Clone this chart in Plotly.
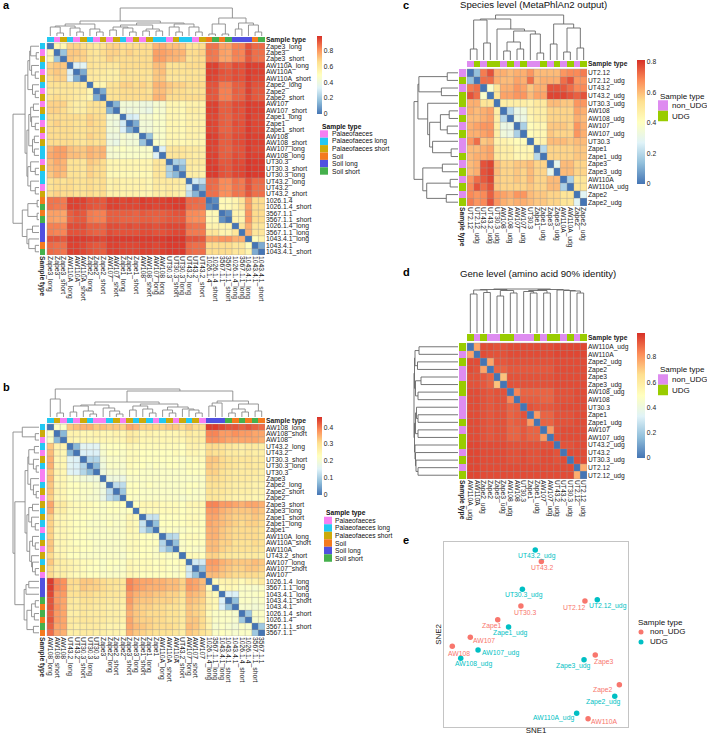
import plotly.graph_objects as go

W, H = 707, 736
FONT = "Liberation Sans"
HEAT_SCALE = ["#4575B4", "#91BFDB", "#E0F3F8", "#FFFFBF", "#FEE090", "#FC8D59", "#D73027"]
GRID_COLOR = "#999999"

TYPE_NAMES_ABC = ["Palaeofaeces", "Palaeofaeces long", "Palaeofaeces short", "Soil", "Soil long", "Soil short"]
TYPE_COLORS = ["#F77FF2", "#22C8F2", "#CCAA0A", "#F47A1F", "#5050E0", "#45B04C"]
UDG_NAMES = ["non_UDG", "UDG"]
UDG_COLORS = ["#DE8CF0", "#99CC00"]

# ---- panel a
A_LABELS = ["Zape3_long", "Zape3", "Zape3_short", "AW110A_long", "AW110A", "AW110A_short", "Zape2_long", "Zape2",
            "Zape2_short", "AW107", "AW107_short", "Zape1_long", "Zape1", "Zape1_short", "AW108", "AW108_short",
            "AW107_long", "AW108_long", "UT30.3", "UT30.3_short", "UT30.3_long", "UT43.2_long", "UT43.2",
            "UT43.2_short", "1026.1.4", "1026.1.4_short", "3567.1.1", "3567.1.1_short", "1026.1.4_long",
            "3567.1.1_long", "1043.4.1_long", "1043.4.1", "1043.4.1_short"]
# upper triangle, in hundredths
A_UPPER = [
    [54, 54, 68, 68, 66, 64, 61, 64, 68, 68, 66, 66, 66, 66, 66, 74, 76, 72, 72, 70, 64, 64, 66, 86, 86, 78, 78, 84, 84, 92, 88, 88],
    [18, 70, 70, 68, 64, 62, 66, 68, 68, 66, 68, 66, 66, 66, 78, 78, 76, 74, 74, 66, 66, 68, 86, 85, 78, 77, 84, 83, 92, 87, 87],
    [70, 68, 68, 64, 62, 64, 68, 66, 66, 66, 66, 66, 66, 78, 78, 74, 74, 72, 64, 66, 66, 85, 85, 77, 77, 83, 83, 91, 87, 86],
    [32, 34, 64, 62, 62, 61, 61, 66, 66, 66, 66, 66, 72, 72, 64, 64, 64, 66, 66, 66, 95, 95, 90, 89, 93, 92, 96, 95, 95],
    [12, 62, 60, 60, 58, 58, 66, 64, 64, 64, 64, 70, 72, 64, 64, 64, 64, 64, 64, 95, 95, 92, 91, 93, 92, 96, 95, 95],
    [60, 60, 58, 58, 58, 64, 64, 64, 64, 62, 70, 70, 62, 62, 62, 64, 64, 64, 95, 94, 91, 91, 93, 92, 96, 94, 94],
    [54, 54, 64, 64, 68, 68, 66, 68, 66, 74, 74, 70, 68, 68, 66, 66, 66, 92, 92, 85, 85, 90, 90, 95, 92, 92],
    [12, 64, 64, 66, 66, 66, 66, 64, 72, 72, 68, 66, 66, 64, 64, 64, 92, 91, 84, 84, 90, 89, 95, 91, 91],
    [64, 64, 66, 66, 66, 66, 66, 74, 74, 66, 66, 66, 66, 66, 66, 91, 91, 84, 84, 89, 89, 94, 91, 90],
    [14, 42, 42, 42, 40, 40, 44, 44, 54, 54, 52, 56, 56, 56, 95, 95, 90, 90, 93, 93, 96, 95, 95],
    [42, 40, 42, 40, 38, 46, 44, 54, 54, 52, 58, 58, 56, 95, 95, 90, 90, 93, 92, 96, 95, 95],
    [30, 32, 44, 44, 48, 46, 54, 54, 52, 56, 56, 56, 94, 94, 90, 89, 92, 92, 96, 94, 94],
    [12, 42, 42, 46, 46, 54, 54, 52, 56, 56, 56, 95, 94, 90, 89, 93, 92, 96, 94, 94],
    [42, 42, 46, 46, 54, 54, 52, 56, 56, 56, 94, 94, 89, 89, 92, 92, 96, 94, 94],
    [18, 46, 46, 54, 54, 52, 56, 56, 54, 96, 95, 91, 90, 93, 93, 96, 95, 95],
    [46, 46, 54, 54, 52, 54, 54, 54, 95, 95, 90, 90, 93, 93, 96, 95, 95],
    [32, 62, 62, 62, 60, 60, 58, 95, 94, 90, 89, 92, 92, 96, 94, 94],
    [62, 62, 62, 60, 58, 58, 95, 95, 90, 90, 93, 92, 96, 95, 95],
    [22, 22, 60, 60, 60, 96, 95, 91, 91, 94, 93, 97, 96, 96],
    [15, 60, 58, 58, 96, 96, 92, 91, 94, 94, 97, 96, 96],
    [58, 58, 56, 96, 96, 92, 91, 94, 94, 97, 96, 96],
    [30, 26, 88, 88, 82, 82, 87, 85, 92, 88, 88],
    [14, 88, 87, 82, 81, 86, 85, 92, 87, 87],
    [87, 87, 81, 81, 86, 85, 91, 87, 87],
    [5, 52, 52, 55, 62, 78, 66, 66],
    [52, 52, 55, 62, 78, 66, 66],
    [6, 55, 55, 80, 66, 66],
    [55, 55, 80, 66, 66],
    [62, 75, 62, 62],
    [75, 62, 62],
    [50, 55],
    [12],
]
# dendrogram as (height, left, right); a leaf is its row index
A_TREE = (28,
          (15,
           (12, (10, (9, 0, (3, 1, 2)), (8, 3, (4, 4, 5))), (7, 6, (4, 7, 8))),
           (13, (11, (9, (6, 9, 10), (8, 11, (4, 12, 13))), (7, (5, 14, 15), (5, 16, 17))),
            (12, (9, 18, (4, 19, 20)), (9, 21, (4, 22, 23))))),
          (18, (12, (2, 24, 25), (2, 26, 27)),
           (13, (7, 28, 29), (11, 30, (4, 31, 32)))))

# ---- panel b
B_LABELS = ["AW108_long", "AW108_short", "AW108", "UT43.2_long", "UT43.2", "UT30.3_short", "UT30.3_long", "UT30.3",
            "Zape3", "Zape2_long", "Zape2_short", "Zape2", "Zape3_short", "Zape3_long", "Zape1_short", "Zape1_long",
            "Zape1", "AW110A_long", "AW110A_short", "AW110A", "UT43.2_short", "AW107_long", "AW107_short", "AW107",
            "1026.1.4_long", "3567.1.1_long", "1043.4.1_long", "1043.4.1_short", "1043.4.1", "1026.1.4_short",
            "1026.1.4", "3567.1.1_short", "3567.1.1"]
B_UPPER = [
    [22, 22, 33, 34, 35, 35, 33, 34, 33, 33, 32, 36, 35, 32, 32, 32, 32, 33, 33, 31, 33, 31, 31, 45, 45, 44, 43, 43, 42, 43, 42, 41],
    [7, 26, 26, 25, 25, 26, 25, 25, 26, 25, 28, 27, 25, 26, 25, 25, 25, 25, 26, 28, 27, 27, 39, 39, 37, 37, 38, 37, 37, 36, 36],
    [26, 25, 25, 25, 25, 25, 25, 25, 25, 28, 27, 25, 25, 25, 25, 25, 25, 25, 27, 27, 27, 38, 38, 37, 36, 36, 36, 36, 36, 35],
    [7, 16, 16, 16, 22, 23, 23, 23, 25, 24, 24, 24, 24, 24, 24, 24, 23, 26, 26, 25, 31, 31, 30, 29, 28, 27, 28, 28, 27],
    [15, 15, 15, 21, 23, 23, 22, 24, 24, 23, 23, 23, 23, 23, 24, 23, 25, 25, 24, 31, 30, 30, 28, 28, 27, 28, 27, 27],
    [11, 11, 20, 22, 22, 22, 24, 24, 23, 23, 23, 23, 23, 23, 22, 24, 24, 24, 33, 33, 31, 30, 29, 29, 29, 28, 28],
    [7, 19, 22, 22, 21, 24, 23, 23, 22, 23, 22, 23, 23, 22, 24, 23, 23, 33, 32, 31, 30, 29, 28, 29, 28, 28],
    [19, 21, 21, 21, 23, 23, 22, 22, 22, 22, 22, 22, 22, 23, 23, 23, 32, 32, 30, 29, 28, 28, 28, 28, 27],
    [19, 19, 18, 22, 22, 22, 22, 22, 22, 22, 22, 22, 22, 22, 22, 31, 31, 30, 29, 28, 28, 28, 27, 27],
    [12, 12, 23, 23, 22, 23, 22, 22, 22, 22, 22, 23, 23, 22, 30, 30, 29, 28, 27, 27, 27, 26, 26],
    [9, 23, 23, 22, 22, 22, 22, 22, 22, 22, 23, 22, 22, 30, 29, 29, 28, 27, 27, 27, 26, 26],
    [23, 22, 22, 22, 22, 22, 22, 22, 21, 22, 22, 22, 29, 29, 28, 27, 26, 26, 26, 25, 25],
    [23, 25, 25, 25, 24, 24, 24, 23, 25, 25, 25, 39, 39, 37, 37, 36, 35, 36, 36, 35],
    [24, 24, 24, 24, 24, 24, 23, 24, 24, 24, 37, 37, 35, 34, 33, 33, 33, 34, 33],
    [13, 13, 23, 23, 23, 23, 24, 24, 23, 36, 36, 34, 33, 32, 32, 32, 33, 32],
    [8, 23, 23, 23, 23, 24, 24, 23, 36, 35, 34, 33, 32, 31, 32, 32, 31],
    [22, 23, 22, 22, 23, 23, 23, 35, 35, 33, 32, 31, 31, 31, 31, 30],
    [11, 12, 23, 24, 24, 23, 35, 35, 33, 32, 31, 31, 31, 31, 30],
    [8, 22, 23, 23, 23, 34, 34, 32, 32, 30, 30, 30, 31, 30],
    [22, 23, 22, 22, 34, 34, 32, 31, 30, 30, 30, 30, 29],
    [24, 24, 23, 32, 32, 30, 29, 28, 28, 28, 28, 27],
    [14, 14, 37, 37, 35, 34, 33, 33, 33, 34, 33],
    [8, 36, 36, 34, 33, 32, 32, 33, 33, 32],
    [34, 34, 33, 32, 31, 31, 31, 31, 30],
    [24, 26, 26, 26, 24, 26, 26, 28],
    [24, 25, 24, 22, 22, 21, 22],
    [15, 15, 22, 22, 22, 23],
    [8, 22, 22, 21, 22],
    [21, 21, 20, 21],
    [9, 22, 22],
    [21, 22],
    [9],
]
B_TREE = (28,
          (18, 0, (4, 1, 2)),
          (26,
           (15,
            (12, (11, (5, 3, 4), (6, 5, (3, 6, 7))), (9, 8, (6, 9, (3, 10, 11)))),
            (13, (11, (7, 12, 13), (8, 14, (4, 15, 16))), (10, (7, 17, (4, 18, 19)), (8, 20, (7, 21, (4, 22, 23)))))),
           (16, (14, (11, 24, 25), 26), (13, (8, (4, 27, 28), (5, 29, 30)), (6, 31, 32)))))

# ---- panel c
C_LABELS = ["UT2.12", "UT2.12_udg", "UT43.2", "UT43.2_udg", "UT30.3_udg", "AW108", "AW108_udg", "AW107", "AW107_udg",
            "UT30.3", "Zape1", "Zape1_udg", "Zape3", "Zape3_udg", "AW110A", "AW110A_udg", "Zape2", "Zape2_udg"]
C_UPPER = [
    [14, 70, 76, 62, 62, 60, 62, 62, 66, 60, 60, 60, 60, 66, 68, 68, 70],
    [72, 72, 62, 60, 60, 64, 62, 72, 60, 62, 62, 62, 72, 76, 66, 66],
    [38, 52, 62, 62, 66, 64, 58, 62, 62, 76, 76, 75, 72, 68, 68],
    [52, 64, 64, 66, 66, 60, 64, 64, 78, 78, 78, 76, 74, 76],
    [48, 48, 48, 48, 46, 50, 50, 60, 60, 58, 58, 66, 66],
    [20, 32, 34, 46, 48, 48, 56, 56, 56, 56, 64, 62],
    [32, 32, 44, 48, 48, 56, 56, 56, 56, 62, 60],
    [18, 42, 44, 44, 58, 58, 58, 56, 66, 62],
    [42, 44, 44, 58, 56, 56, 56, 66, 62],
    [44, 46, 60, 60, 60, 58, 60, 60],
    [20, 56, 56, 56, 56, 58, 58],
    [56, 56, 56, 56, 58, 58],
    [30, 60, 60, 56, 56],
    [60, 60, 56, 56],
    [18, 52, 52],
    [52, 52],
    [28],
]
C_TREE = (45,
          (41,
           (40, (11, 0, 1), (17, 2, 3)),
           (31, 4, (29, (18, (9, 5, 6), (11, 7, 8)), (26, 9, (7, 10, 11))))),
          (36, (16, 12, 13), (32, (8, 14, 15), (12, 16, 17))))

# ---- panel d
D_LABELS = ["AW110A_udg", "AW110A", "Zape2_udg", "Zape2", "Zape3", "Zape3_udg", "AW108_udg", "AW108", "UT30.3", "Zape1",
            "Zape1_udg", "AW107", "AW107_udg", "UT43.2_udg", "UT43.2", "UT30.3_udg", "UT2.12", "UT2.12_udg"]
D_UPPER = [
    [78, 94, 94, 93, 93, 94, 94, 94, 94, 94, 94, 94, 95, 95, 95, 95, 95],
    [94, 93, 93, 93, 94, 94, 94, 94, 94, 94, 94, 95, 95, 95, 95, 95],
    [78, 92, 92, 93, 93, 93, 93, 93, 93, 93, 94, 94, 94, 94, 94],
    [90, 90, 92, 92, 92, 92, 92, 92, 92, 94, 94, 94, 94, 94],
    [72, 93, 93, 93, 93, 93, 93, 93, 94, 94, 94, 94, 94],
    [93, 93, 93, 93, 93, 93, 93, 94, 94, 94, 94, 94],
    [84, 90, 90, 90, 90, 90, 93, 93, 93, 94, 94],
    [91, 91, 91, 90, 90, 93, 93, 93, 94, 94],
    [93, 92, 92, 92, 93, 94, 94, 94, 94],
    [80, 90, 90, 93, 93, 93, 94, 94],
    [90, 90, 93, 93, 93, 94, 94],
    [80, 93, 94, 94, 94, 94],
    [93, 94, 94, 94, 94],
    [93, 93, 94, 94],
    [94, 94, 94],
    [94, 94],
    [76],
]
D_TREE = (44,
          (43.5, (43, (39, 0, 1), (40.5, 2, 3)), (42.5, (37, 4, 5), (40, 6, 7))),
          (43.5, (42.5, (41.5, 8, (40, 9, 10)), (40, 11, 12)), (43, 13, (42.5, 14, (42, 15, (40, 16, 17))))))

# ---- panel e
NON_UDG_NAMES = ["UT43.2", "UT2.12", "UT30.3", "Zape1", "AW107", "AW108", "Zape3", "Zape2", "AW110A"]
NON_UDG_SNE1 = [52.9, 76.6, 41.8, 29.2, 14.3, 4.5, 82.2, 95.3, 78.3]
NON_UDG_SNE2 = [89.5, 68.1, 65.4, 58.0, 48.5, 43.6, 38.9, 22.9, 4.5]
NON_UDG_SHIFT = [(1, 6), (-10, 6), (5, 6), (-6, 6), (14, 3), (7, 7), (8, 7), (-17, 5), (16, 3)]
UDG_NAMES_E = ["UT43.2_udg", "UT30.3_udg", "UT2.12_udg", "Zape1_udg", "AW107_udg", "AW108_udg", "Zape3_udg",
               "Zape2_udg", "AW110A_udg"]
UDG_SNE1 = [49.6, 42.6, 83.3, 35.1, 18.5, 9.1, 76.1, 92.8, 72.1]
UDG_SNE2 = [95.7, 74.4, 68.8, 54.1, 41.6, 37.1, 36.4, 16.6, 7.4]
UDG_SHIFT = [(2, 6), (2, 6), (11, 6), (2, 6), (22, 3), (13, 6), (-11, 6), (-11, 6), (-23, 5)]
E_COLORS = ["#F8766D", "#00BFC4"]

# pixel boxes of each clustered panel
PANELS = [
    dict(labels=A_LABELS, upper=A_UPPER, tree=A_TREE, kind="soil", zmax=0.98, ticks=[0, 0.2, 0.4, 0.6, 0.8],
         hm=(47, 265, 43, 255), top_strip=(37, 42), left_strip=(40, 45), top_dendro=(8, 36), left_dendro=(13, 39),
         cbar=(317, 36, 5, 78), fs=6.8, line="#8a8a8a"),
    dict(labels=B_LABELS, upper=B_UPPER, tree=B_TREE, kind="soil", zmax=0.46, ticks=[0, 0.1, 0.2, 0.3, 0.4],
         hm=(47, 265, 424, 636), top_strip=(418, 423), left_strip=(40, 45), top_dendro=(389, 417), left_dendro=(13, 39),
         cbar=(317, 417, 5, 78), fs=6.8, line="#8a8a8a"),
    dict(labels=C_LABELS, upper=C_UPPER, tree=C_TREE, kind="udg", zmax=0.81, ticks=[0, 0.2, 0.4, 0.6, 0.8],
         hm=(467, 587, 69, 206), top_strip=(61, 67), left_strip=(459, 466), top_dendro=(15, 60), left_dendro=(414, 458),
         cbar=(637, 60, 8, 124), fs=6.7, line="#666666"),
    dict(labels=D_LABELS, upper=D_UPPER, tree=D_TREE, kind="udg", zmax=0.99, ticks=[0, 0.2, 0.4, 0.6, 0.8],
         hm=(467, 587, 343, 479), top_strip=(334, 341), left_strip=(459, 466), top_dendro=(289, 333), left_dendro=(414, 458),
         cbar=(637, 333, 8, 125), fs=6.7, line="#666666"),
]


def px_x(x):
    return x / W


def px_y(y):
    return 1 - y / H


def full_matrix(upper):
    n = len(upper) + 1
    z = [[0.0] * n for _ in range(n)]
    for i, row in enumerate(upper):
        for k, v in enumerate(row):
            z[i][i + 1 + k] = v / 100
            z[i + 1 + k][i] = v / 100
    return z


def sample_type(label, kind):
    if kind == "udg":
        return 1 if label.endswith("_udg") else 0
    base = 3 if label[0].isdigit() else 0
    if label.endswith("_long"):
        return base + 1
    if label.endswith("_short"):
        return base + 2
    return base


def tree_lines(node, xs, ys):
    # walks the tree, returns position and height of the node
    if isinstance(node, int):
        return node, 0
    h, left, right = node
    pl, hl = tree_lines(left, xs, ys)
    pr, hr = tree_lines(right, xs, ys)
    xs += [pl, pl, pr, pr, None]
    ys += [hl, h, h, hr, None]
    return (pl + pr) / 2, h


def step_scale(colors):
    n = len(colors)
    scale = []
    for i, c in enumerate(colors):
        scale += [[i / n, c], [(i + 1) / n, c]]
    return scale


fig = go.Figure()
shapes = []
annotations = []
layout_axes = {}

for idx, p in enumerate(PANELS):
    ax = idx + 1
    xname, yname = ("x", "y") if ax == 1 else (f"x{ax}", f"y{ax}")
    n = len(p["labels"])
    left, right, top, bottom = p["hm"]
    cw = (right - left) / n
    ch = (bottom - top) / n
    ax_left, ax_top = p["left_dendro"][0] - 1, p["top_dendro"][0] - 1

    # every part of the panel is placed in cell units of one axes pair
    def cell_x(px):
        return -0.5 + (px - left) / cw

    def cell_y(py):
        return -0.5 + (py - top) / ch

    z = full_matrix(p["upper"])
    cx, cy, cw_bar, ch_bar = p["cbar"]
    fig.add_trace(go.Heatmap(
        z=z, x=list(range(n)), y=list(range(n)), xaxis=xname, yaxis=yname,
        zmin=0, zmax=p["zmax"], colorscale=[[i / 6, c] for i, c in enumerate(HEAT_SCALE)], hoverinfo="skip",
        colorbar=dict(
            x=px_x(cx), y=px_y(cy), xanchor="left", yanchor="top", xpad=0, ypad=0,
            thickness=cw_bar, thicknessmode="pixels", len=ch_bar, lenmode="pixels",
            outlinewidth=0, ticks="", tickvals=p["ticks"], ticktext=[f"{t:g}" for t in p["ticks"]],
            tickfont=dict(size=6.7, family=FONT, color="#222222"),
        ),
    ))
    # thin cell borders on top of the cells
    grid_x, grid_y = [], []
    for i in range(n + 1):
        grid_x += [i - 0.5, i - 0.5, None, -0.5, n - 0.5, None]
        grid_y += [-0.5, n - 0.5, None, i - 0.5, i - 0.5, None]
    fig.add_trace(go.Scatter(
        x=grid_x, y=grid_y, xaxis=xname, yaxis=yname, mode="lines", line=dict(color=GRID_COLOR, width=0.5),
        opacity=0.8, showlegend=False, hoverinfo="skip",
    ))

    types = [sample_type(lab, p["kind"]) for lab in p["labels"]]
    colors = TYPE_COLORS if p["kind"] == "soil" else UDG_COLORS
    edges = [i - 0.5 for i in range(n + 1)]
    s0, s1 = p["top_strip"]
    fig.add_trace(go.Heatmap(
        z=[types], x=edges, y=[cell_y(s0), cell_y(s1)], xaxis=xname, yaxis=yname,
        zmin=-0.5, zmax=len(colors) - 0.5, colorscale=step_scale(colors), showscale=False, hoverinfo="skip",
    ))
    s0x, s1x = p["left_strip"]
    fig.add_trace(go.Heatmap(
        z=[[t] for t in types], x=[cell_x(s0x), cell_x(s1x)], y=edges, xaxis=xname, yaxis=yname,
        zmin=-0.5, zmax=len(colors) - 0.5, colorscale=step_scale(colors), showscale=False, hoverinfo="skip",
    ))

    # dendrograms, same tree on both sides
    pos, hgt = [], []
    tree_lines(p["tree"], pos, hgt)
    root = p["tree"][0]
    d0, d1 = p["top_dendro"]
    depth = d1 - d0
    fig.add_trace(go.Scatter(
        x=pos, y=[None if h is None else cell_y(d1 - h / root * depth) for h in hgt], xaxis=xname, yaxis=yname,
        mode="lines", line=dict(color=p["line"], width=0.9), showlegend=False, hoverinfo="skip",
    ))
    d0, d1 = p["left_dendro"]
    depth = d1 - d0
    fig.add_trace(go.Scatter(
        x=[None if h is None else cell_x(d1 - h / root * depth) for h in hgt], y=pos, xaxis=xname, yaxis=yname,
        mode="lines", line=dict(color=p["line"], width=0.9), showlegend=False, hoverinfo="skip",
    ))

    tick_font = dict(size=p["fs"], family=FONT, color="#222222")
    layout_axes["xaxis" if ax == 1 else f"xaxis{ax}"] = dict(
        domain=[px_x(ax_left), px_x(right)], range=[cell_x(ax_left), n - 0.5], anchor=yname,
        showgrid=False, zeroline=False, showline=False, ticks="", tickangle=90, tickfont=tick_font,
        tickmode="array", tickvals=[(cell_x(s0x) + cell_x(s1x)) / 2] + list(range(n)),
        ticktext=["<b>Sample type</b>"] + p["labels"],
    )
    layout_axes["yaxis" if ax == 1 else f"yaxis{ax}"] = dict(
        domain=[px_y(bottom), px_y(ax_top)], range=[n - 0.5, cell_y(ax_top)], anchor=xname, side="right",
        showgrid=False, zeroline=False, showline=False, ticks="", tickfont=tick_font,
        tickmode="array", tickvals=[(cell_y(s0) + cell_y(s1)) / 2] + list(range(n)),
        ticktext=["<b>Sample type</b>"] + p["labels"],
    )


def add_text(text, x, y, size, bold=False, color="#111111"):
    annotations.append(dict(
        text=f"<b>{text}</b>" if bold else text, xref="paper", yref="paper", x=px_x(x), y=px_y(y),
        xanchor="left", yanchor="middle", showarrow=False, font=dict(size=size, family=FONT, color=color),
    ))


def add_legend(title, names, colors, x, title_y, first_y, step, swatch, text_x, size, bold):
    add_text(title, x, title_y, size, bold=bold)
    for i, (name, col) in enumerate(zip(names, colors)):
        y = first_y + i * step
        shapes.append(dict(type="rect", xref="paper", yref="paper", x0=px_x(x), x1=px_x(x + swatch),
                           y0=px_y(y - step / 2), y1=px_y(y + step / 2), fillcolor=col, line_width=0))
        add_text(name, text_x, y, size)


add_legend("Sample type", TYPE_NAMES_ABC, TYPE_COLORS, 320, 127, 134, 7.4, 8, 330, 6.7, True)
add_legend("Sample type", TYPE_NAMES_ABC, TYPE_COLORS, 324, 513, 520.5, 7.5, 8, 333, 6.7, True)
add_legend("Sample type", UDG_NAMES, UDG_COLORS, 658, 96, 105.5, 10.5, 10, 670, 8, False)
add_legend("Sample type", UDG_NAMES, UDG_COLORS, 658, 369, 379.5, 10.5, 10, 670, 8, False)

for letter, x, y in [("a", 1, 5), ("b", 1, 387), ("c", 401, 5), ("d", 401, 272), ("e", 401, 540)]:
    add_text(letter, x, y, 11, bold=True, color="#000000")
add_text("Species level (MetaPhlAn2 output)", 458, 5, 9.6)
add_text("Gene level (amino acid 90% identity)", 458, 273, 9.6)

# ---- panel e scatter
for names, sx, sy, shift, col in [
    (NON_UDG_NAMES, NON_UDG_SNE1, NON_UDG_SNE2, NON_UDG_SHIFT, E_COLORS[0]),
    (UDG_NAMES_E, UDG_SNE1, UDG_SNE2, UDG_SHIFT, E_COLORS[1]),
]:
    fig.add_trace(go.Scatter(
        x=sx, y=sy, xaxis="x5", yaxis="y5", mode="markers", marker=dict(size=5.5, color=col),
        showlegend=False, hoverinfo="skip",
    ))
    for name, a, b, (dx, dy) in zip(names, sx, sy, shift):
        annotations.append(dict(
            text=name, xref="x5", yref="y5", x=a, y=b, xshift=dx, yshift=-dy, showarrow=False,
            font=dict(size=6.8, family=FONT, color=col),
        ))

layout_axes["xaxis5"] = dict(
    domain=[px_x(444), px_x(628)], range=[0, 100], anchor="y5", showgrid=False, zeroline=False, showticklabels=False,
    ticks="", showline=True, mirror=True, linecolor="#c4c4c4", linewidth=1,
    title=dict(text="SNE1", standoff=0, font=dict(size=7.9, family=FONT, color="#111111")),
)
layout_axes["yaxis5"] = dict(
    domain=[px_y(727), px_y(542)], range=[0, 100], anchor="x5", showgrid=False, zeroline=False, showticklabels=False,
    ticks="", showline=True, mirror=True, linecolor="#c4c4c4", linewidth=1,
    title=dict(text="SNE2", standoff=0, font=dict(size=7.9, family=FONT, color="#111111")),
)

add_text("Sample type", 636, 622, 8)
for name, col, y in zip(UDG_NAMES, E_COLORS, [632, 642]):
    shapes.append(dict(type="circle", xref="paper", yref="paper", x0=px_x(638.5), x1=px_x(643.5),
                       y0=px_y(y - 2.5), y1=px_y(y + 2.5), fillcolor=col, line_width=0))
    add_text(name, 648, y - 0.5, 8)

fig.update_layout(
    width=W, height=H, margin=dict(l=0, r=0, t=0, b=0), autosize=False, showlegend=False,
    paper_bgcolor="white", plot_bgcolor="rgba(0,0,0,0)", font_family=FONT,
    shapes=shapes, annotations=annotations, **layout_axes,
)

fig.write_html("out.html", config={"displayModeBar": False}, post_script="document.body.style.margin='0';")
